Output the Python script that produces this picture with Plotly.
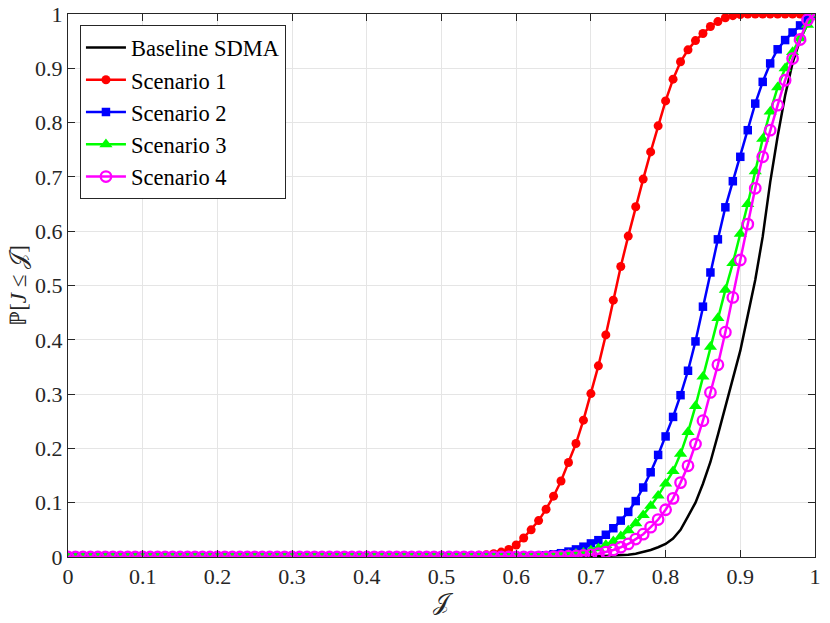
import plotly.graph_objects as go

# threshold grid, 0 to 1 in steps of 0.01
j_grid = [round(i * 0.01, 2) for i in range(101)]

zeros50 = [0.0] * 50

baseline_sdma = zeros50 + [
    0, 0, 0, 0, 0, 0, 0, 0, 0, 0,
    0, 0, 0, 0, 0, 0, 0.0002, 0.0003, 0.0005, 0.0007,
    0.001, 0.0015, 0.002, 0.0025, 0.003, 0.004, 0.006, 0.009, 0.013, 0.018,
    0.024, 0.034, 0.05, 0.075, 0.10, 0.135, 0.175, 0.225, 0.275, 0.33,
    0.38, 0.445, 0.51, 0.59, 0.69, 0.775, 0.85, 0.91, 0.952, 0.982,
    1.0,
]

scenario_1 = zeros50 + [
    0.0005, 0.0007, 0.001, 0.0015, 0.002, 0.003, 0.004, 0.006, 0.009, 0.014,
    0.022, 0.035, 0.050, 0.067, 0.088, 0.112, 0.140, 0.174, 0.209, 0.252,
    0.301, 0.352, 0.409, 0.473, 0.535, 0.591, 0.645, 0.696, 0.746, 0.794,
    0.840, 0.880, 0.912, 0.934, 0.951, 0.964, 0.977, 0.986, 0.993, 0.997,
    0.999, 1.0, 1.0, 1.0, 1.0, 1.0, 1.0, 1.0, 1.0, 1.0,
    1.0,
]

scenario_2 = zeros50 + [
    0, 0, 0, 0, 0, 0, 0, 0, 0, 0,
    0.0005, 0.001, 0.0015, 0.002, 0.003, 0.005, 0.007, 0.010, 0.014, 0.019,
    0.025, 0.031, 0.041, 0.053, 0.067, 0.083, 0.103, 0.128, 0.156, 0.188,
    0.222, 0.258, 0.298, 0.343, 0.397, 0.461, 0.524, 0.585, 0.644, 0.692,
    0.737, 0.786, 0.835, 0.875, 0.909, 0.935, 0.952, 0.966, 0.979, 0.991,
    1.0,
]

scenario_3 = zeros50 + [
    0, 0, 0, 0, 0, 0, 0, 0, 0, 0,
    0, 0, 0, 0.0005, 0.001, 0.002, 0.003, 0.004, 0.006, 0.008,
    0.012, 0.016, 0.022, 0.029, 0.038, 0.049, 0.062, 0.077, 0.094, 0.113,
    0.135, 0.158, 0.19, 0.23, 0.278, 0.332, 0.387, 0.44, 0.492, 0.541,
    0.595, 0.65, 0.71, 0.77, 0.82, 0.865, 0.90, 0.93, 0.955, 0.98,
    1.0,
]

scenario_4 = zeros50 + [
    0, 0, 0, 0, 0, 0, 0, 0, 0, 0,
    0, 0, 0, 0, 0, 0.0005, 0.001, 0.0015, 0.002, 0.003,
    0.004, 0.006, 0.009, 0.013, 0.018, 0.024, 0.033, 0.042, 0.055, 0.069,
    0.087, 0.108, 0.137, 0.168, 0.208, 0.251, 0.303, 0.354, 0.414, 0.478,
    0.547, 0.613, 0.679, 0.737, 0.786, 0.832, 0.878, 0.918, 0.953, 0.989,
    1.0,
]

serif = "Liberation Serif"
axis_col = "#262626"

fig = go.Figure()

fig.add_trace(go.Scatter(x=j_grid, y=baseline_sdma, mode="lines", name="Baseline SDMA",
                         line=dict(color="black", width=2.5)))
fig.add_trace(go.Scatter(x=j_grid, y=scenario_1, mode="lines+markers", name="Scenario 1",
                         line=dict(color="#ff0000", width=2.5),
                         marker=dict(symbol="circle", size=9, color="#ff0000")))
fig.add_trace(go.Scatter(x=j_grid, y=scenario_2, mode="lines+markers", name="Scenario 2",
                         line=dict(color="#0000ff", width=2.5),
                         marker=dict(symbol="square", size=8.5, color="#0000ff")))
fig.add_trace(go.Scatter(x=j_grid, y=scenario_3, mode="lines+markers", name="Scenario 3",
                         line=dict(color="#00ff00", width=2.5),
                         marker=dict(symbol="triangle-up", size=11.5, color="#00ff00")))
fig.add_trace(go.Scatter(x=j_grid, y=scenario_4, mode="lines+markers", name="Scenario 4",
                         line=dict(color="#ff00ff", width=2.5),
                         marker=dict(symbol="circle-open", size=10.5, color="#ff00ff",
                                     line=dict(width=2.3, color="#ff00ff"))))

axis_common = dict(
    range=[0, 1], dtick=0.1, tick0=0,
    showgrid=True, gridcolor="#e5e5e5", gridwidth=1,
    zeroline=False, automargin=False,
    showline=True, linecolor=axis_col, linewidth=1, mirror="ticks",
    ticks="inside", ticklen=7, tickcolor=axis_col,
    tickfont=dict(family=serif, size=22, color=axis_col),
)

fig.update_xaxes(**axis_common,
                 title=dict(text="𝒥", font=dict(family=serif, size=24, color=axis_col),
                            standoff=3))
fig.update_yaxes(**axis_common,
                 title=dict(text="ℙ[<i>J</i> ≤ 𝒥]", font=dict(family=serif, size=23, color=axis_col),
                            standoff=2))

fig.update_layout(
    width=830, height=623,
    margin=dict(l=68, r=15, t=14, b=66),
    plot_bgcolor="white", paper_bgcolor="white",
    font=dict(family=serif),
    showlegend=True,
    legend=dict(
        x=0.016, y=0.979, xanchor="left", yanchor="top",
        bgcolor="white", bordercolor=axis_col, borderwidth=1,
        font=dict(family=serif, size=22.5, color="black"),
        tracegroupgap=0, itemwidth=40,
    ),
)

# drop the default 8px page margin so the figure sits at the window corner
fig.write_html("out.html", config={"displayModeBar": False},
               post_script="document.body.style.margin='0px';")
